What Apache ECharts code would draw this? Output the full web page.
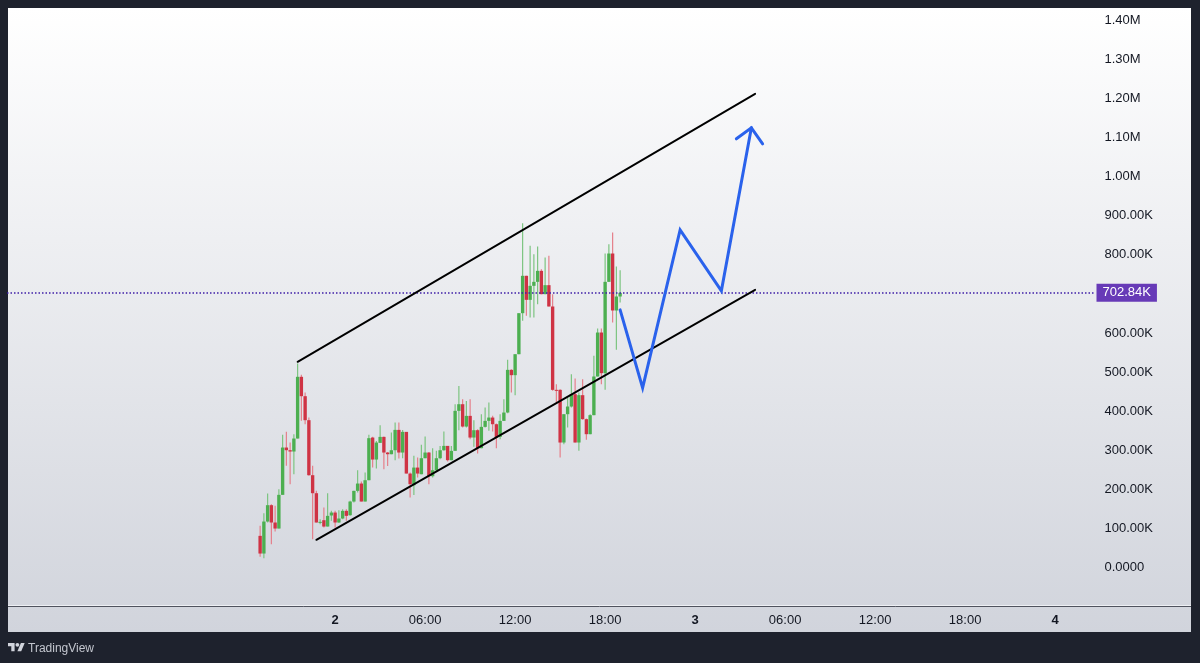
<!DOCTYPE html>
<html>
<head>
<meta charset="utf-8">
<title>TradingView chart</title>
<script src="https://cdn.jsdelivr.net/npm/echarts@6/dist/echarts.min.js"></script>
<style>
html, body { margin: 0; padding: 0; background: #1e222d; }
#chart { width: 1200px; height: 663px; }
</style>
</head>
<body>
<div id="chart"></div>
<script>
// all prices in thousands, 15 minute bars
var firstBar = 67;
var opens = [81.8,36.6,118.4,160.2,115.9,100.5,186.6,307.5,300.7,297.3,330.5,488.2,438.7,377.4,236.8,190.8,115,121.8,105.6,133.8,141.4,115.9,126.1,145.7,134.6,169.5,196.8,215.5,169.5,224,
    333,276.8,319.4,334.7,294.7,290.4,300.6,352.6,294.7,347.5,241,211.2,256.3,239.3,280.2,294.7,234.2,249.5,280.2,300.6,311.7,275.1,299,401.2,418.2,361.1,388.4,333,351.8,305.8,360.3,375.6,384.1,367.1,334.7,375.6,
    397,506,492.4,546,650.8,746.3,684.9,720.7,730.9,759,699.4,722.4,667.9,454.9,454.9,320.3,392.7,412.3,443.8,320.3,441.3,380,341.6,390.2,489,601.4,497.5,730.9,803.3,657.7,693.4];
var closes = [36.6,118.4,160.2,115.9,100.5,186.6,307.5,300.7,297.3,330.5,488.2,438.7,377.4,236.8,190.8,115.9,117.6,105.6,132.9,141.4,115.9,126.1,145.7,132.9,169.5,196.8,215.5,169.5,224,331.4,
    276.8,320.2,334.7,294.7,290.4,300.6,352.6,294.7,347.5,241,213.8,256.3,241,280.2,294.7,234.2,249.5,280.2,300.6,311.7,275.1,299,401.2,418.2,361.1,388.4,333,351.8,305.8,360.3,375.6,384.1,367.1,333,375.6,396.9,
    506,492.4,546,650.8,746.3,684.9,720.7,730.9,759,699.4,722.4,667.9,454.9,452.4,320.3,392.7,412.3,443.8,320.3,441.3,380,341.6,390.2,489,601.4,497.5,730.9,803.3,657.7,693.4,702.8];
var highs = [107.4,139.7,190,162.7,158.5,201,339.9,347.6,320.3,341.6,522.2,493.3,448.1,384.2,260.7,196.8,124.4,154.2,190.8,145.7,145.7,147.4,150,150,171.2,196.8,249.6,220.7,243.7,339.9,
    335,324.5,364.5,336,296,345.8,371.4,371.4,352.6,347.5,243.6,286.2,281.9,314.3,335.6,296.4,305.8,299,311.7,348.3,311.7,311.7,418.2,465,431,426.7,431,377.3,354.3,392.7,409.7,422.5,388.4,368.8,392.7,431,
    531.6,507.7,546,650.8,880.9,746.3,822.9,801.6,821.2,763.3,793.1,797.4,699.4,469.4,456.6,392.7,435.3,494.9,483.9,448.1,482.2,381.6,392.7,541.8,611.7,611.7,803.3,827.2,857,770.1,760.7];
var lows = [28.1,24.7,115.9,60.5,92.9,100.5,186.6,260.7,213.8,239.4,330.5,375.7,367.2,235.1,73.3,115.9,111.6,103.1,105.6,120.1,103.1,115,124.4,120.1,132.9,167,192.5,169.5,169.5,224,
    256.3,253.8,319.4,252.1,260.6,290.4,275.1,279.3,280.2,241,179.7,186.5,230.8,239.3,280.2,213.8,230.8,247.8,277.6,299,271.7,275.1,299,351.8,358.6,358.6,328.8,309.2,292.1,305.8,358.6,350.1,348.3,305.8,328.8,375.6,
    395.3,448.1,441.3,546,631.3,644,639.8,639.8,673.8,699.4,699.4,667.9,452.4,422.5,282,316,358.6,409.8,320.3,299,378.2,327.1,341.6,390.2,489,469.4,454.9,730.9,627,557.2,678.1];

// drawn tools: [bar index, price]
var channelUpper = [[77, 526.4], [199, 1211.4]];
var channelLower = [[82, 71.6], [199, 710.5]];
var projection = [[163, 659.3], [169, 460], [179, 863.8], [190, 707.9], [198, 1124.5]];
var arrowHead = [[194, 1096.4], [198, 1124.5], [201, 1083.6]];

var lastPrice = 702.84;
var barCount = 290;
var dayStartBar = 87;
var dayNumbers = ['2', '3', '4'];
var fontName = 'Liberation Sans';

var upBody = '#4caf50';
var downBody = '#cf3344';
var upWick = '#7cc480';
var downWick = '#e57f8a';

var categories = [];
var labelBars = {};
for (var b = 0; b < barCount; b++) {
    var mins = (b - dayStartBar) * 15;
    var inDay = ((mins % 1440) + 1440) % 1440;
    var hh = Math.floor(inDay / 60);
    var mm = inDay % 60;
    var day = Math.floor(mins / 1440);
    if (inDay === 0 && dayNumbers[day]) {
        categories.push(dayNumbers[day]);
        labelBars[b] = true;
    } else {
        categories.push((hh < 10 ? '0' : '') + hh + ':' + (mm < 10 ? '0' : '') + mm);
        if (b >= dayStartBar && mm === 0 && hh % 6 === 0) labelBars[b] = true;
    }
}

var barData = [];
for (var k = 0; k < opens.length; k++) {
    barData.push([firstBar + k, opens[k], closes[k], lows[k], highs[k]]);
}

// wick + body, placed through the axes
function renderBar(params, api) {
    var idx = api.value(0);
    var open = api.value(1);
    var close = api.value(2);
    var up = close >= open;
    var bandW = api.size([1, 0])[0];
    var bodyW = bandW * 0.9;
    var x = api.coord([idx, open])[0];
    var lowPt = api.coord([idx, api.value(3)]);
    var highPt = api.coord([idx, api.value(4)]);
    var topY = api.coord([idx, Math.max(open, close)])[1];
    var botY = api.coord([idx, Math.min(open, close)])[1];
    return {
        type: 'group',
        children: [
            {
                type: 'line',
                shape: { x1: x, y1: highPt[1], x2: x, y2: lowPt[1] },
                style: { stroke: up ? upWick : downWick, lineWidth: 1.2 }
            },
            {
                type: 'rect',
                shape: { x: x - bodyW / 2, y: topY, width: bodyW, height: Math.max(botY - topY, 1) },
                style: { fill: up ? upBody : downBody }
            }
        ]
    };
}

function priceLabel(v) {
    if (v === 0) return '0.0000';
    if (v >= 1000) return (v / 1000).toFixed(2) + 'M';
    return v.toFixed(2) + 'K';
}

function toolLine(name, data, color, width) {
    return {
        name: name,
        type: 'line',
        data: data,
        symbol: 'none',
        z: 5,
        lineStyle: { color: color, width: width, cap: 'round', join: 'miter' }
    };
}

var chart = echarts.init(document.getElementById('chart'));
chart.setOption({
    animation: false,
    backgroundColor: '#1e222d',
    textStyle: { fontFamily: fontName },
    graphic: [
        {
            type: 'rect',
            z: -10,
            silent: true,
            shape: { x: 8, y: 8, width: 1183, height: 624 },
            style: {
                fill: {
                    type: 'linear', x: 0, y: 0, x2: 0, y2: 1,
                    colorStops: [{ offset: 0, color: '#ffffff' }, { offset: 1, color: '#d1d4dc' }]
                }
            }
        },
        {
            type: 'line',
            z: -5,
            silent: true,
            shape: { x1: 8, y1: 606.5, x2: 1191, y2: 606.5 },
            style: { stroke: '#50535e', lineWidth: 1 }
        },
        {
            type: 'line',
            z: -5,
            silent: true,
            shape: { x1: 8, y1: 605.5, x2: 1191, y2: 605.5 },
            style: { stroke: '#eef0f4', lineWidth: 1 }
        },
        {
            type: 'polygon',
            silent: true,
            shape: { points: [[8, 642.9], [14.6, 642.9], [14.6, 651.3], [11.3, 651.3], [11.3, 646.2], [8, 646.2]] },
            style: { fill: '#d1d4dc' }
        },
        {
            type: 'polygon',
            silent: true,
            shape: { points: [[17.4, 651.3], [20.9, 642.9], [24.7, 642.9], [21.2, 651.3]] },
            style: { fill: '#d1d4dc' }
        },
        {
            type: 'circle',
            silent: true,
            shape: { cx: 17.4, cy: 644.8, r: 1.9 },
            style: { fill: '#d1d4dc' }
        },
        {
            type: 'text',
            silent: true,
            x: 28, y: 649,
            style: { text: 'TradingView', fill: '#c3c6ce', font: '12px "' + fontName + '"', textVerticalAlign: 'middle' }
        }
    ],
    grid: { left: 7, width: 1087.5, top: 20, height: 587 },
    xAxis: {
        type: 'category',
        data: categories,
        boundaryGap: true,
        axisLine: { show: false },
        axisTick: { show: false },
        splitLine: { show: false },
        axisLabel: {
            color: '#131722',
            fontFamily: fontName,
            fontSize: 13,
            margin: 7,
            interval: function (idx) { return labelBars[idx] === true; },
            formatter: function (val) {
                return val.indexOf(':') < 0 ? '{d|' + val + '}' : val;
            },
            rich: { d: { fontWeight: 'bold', fontSize: 13, color: '#131722', fontFamily: fontName } }
        }
    },
    yAxis: {
        type: 'value',
        position: 'right',
        min: -100,
        max: 1400,
        interval: 100,
        axisLine: { show: false },
        axisTick: { show: false },
        splitLine: { show: false },
        axisLabel: {
            color: '#131722',
            fontFamily: fontName,
            fontSize: 13,
            margin: 10,
            showMinLabel: false,
            formatter: priceLabel
        }
    },
    series: [
        {
            name: 'price',
            type: 'custom',
            renderItem: renderBar,
            data: barData,
            encode: { x: 0, y: [1, 2, 3, 4] },
            z: 2,
            markLine: {
                silent: true,
                symbol: 'none',
                data: [{ yAxis: lastPrice }],
                lineStyle: { color: '#3f1fa8', type: [1.5, 2], width: 1.5 },
                label: {
                    position: 'end',
                    distance: 2,
                    formatter: function () { return priceLabel(lastPrice); },
                    color: '#ffffff',
                    fontFamily: fontName,
                    fontSize: 13,
                    backgroundColor: '#673ab7',
                    padding: [3, 6, 2, 6]
                }
            }
        },
        toolLine('channel upper', channelUpper, '#000000', 1.9),
        toolLine('channel lower', channelLower, '#000000', 1.9),
        toolLine('projection', projection, '#2a62ec', 3),
        toolLine('arrow head', arrowHead, '#2a62ec', 3)
    ]
});
</script>
</body>
</html>
